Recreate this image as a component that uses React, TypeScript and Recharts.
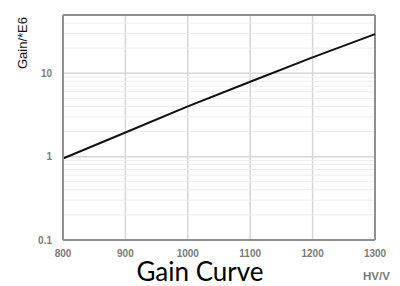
import {
  LineChart,
  Line,
  XAxis,
  YAxis,
  CartesianGrid,
  ReferenceLine,
} from 'recharts';

// high voltage (V) and gain (x1E6)
const voltages = [800, 900, 1000, 1100, 1200, 1300];
const gains = [0.95, 1.95, 4.0, 7.9, 15.5, 29.5];

const xTicks = [800, 900, 1000, 1100, 1200, 1300];
const yTicks = [0.1, 1, 10];
const minorY = [0.2, 0.3, 0.4, 0.5, 0.6, 0.7, 0.8, 0.9, 2, 3, 4, 5, 6, 7, 8, 9, 20, 30, 40];

const data = voltages.map((v, i) => ({ hv: v, gain: gains[i] }));

const tickStyle = {
  fill: '#7a7a7a',
  fontSize: 10,
  fontWeight: 700,
  fontFamily: 'Liberation Sans, Arial, sans-serif',
};

export default function App() {
  return (
    <div style={{ position: 'absolute', left: 0, top: 0, width: 400, height: 286, background: '#fff' }}>
      <LineChart
        width={400}
        height={286}
        data={data}
        margin={{ top: 15, right: 25, bottom: 0, left: 0 }}
      >
        {/* minor grid lines first so the major ones sit on top */}
        {minorY.map(v => (
          <ReferenceLine key={v} y={v} stroke="#ececec" strokeWidth={1} ifOverflow="hidden" />
        ))}
        <CartesianGrid stroke="#d6d6d6" strokeWidth={1.5} />
        <ReferenceLine y={50} stroke="#8f8f8f" strokeWidth={2} />
        <ReferenceLine x={1300} stroke="#8f8f8f" strokeWidth={2} />
        <XAxis
          dataKey="hv"
          type="number"
          domain={[800, 1300]}
          ticks={xTicks}
          height={46}
          tickLine={false}
          tickSize={6}
          tickMargin={4}
          axisLine={{ stroke: '#8f8f8f', strokeWidth: 2 }}
          tick={tickStyle}
        />
        <YAxis
          scale="log"
          domain={[0.1, 50]}
          ticks={yTicks}
          allowDataOverflow
          width={63}
          tickLine={false}
          tickSize={6}
          tickMargin={5}
          axisLine={{ stroke: '#8f8f8f', strokeWidth: 2 }}
          tick={tickStyle}
        />
        <Line
          type="linear"
          dataKey="gain"
          stroke="#111"
          strokeWidth={2}
          dot={false}
          isAnimationActive={false}
        />
      </LineChart>

      <div
        style={{
          position: 'absolute',
          left: 22,
          top: 43,
          transform: 'translate(-50%, -50%) rotate(-90deg)',
          fontFamily: 'Liberation Sans, Arial, sans-serif',
          fontSize: 13,
          color: '#111',
          whiteSpace: 'nowrap',
        }}
      >
        Gain/*E6
      </div>

      <div
        style={{
          position: 'absolute',
          left: 0,
          width: 400,
          top: 261,
          textAlign: 'center',
          fontFamily: 'Lato, sans-serif',
          fontSize: 26,
          lineHeight: '20px',
          color: '#000',
        }}
      >
        Gain Curve
      </div>

      <div
        style={{
          position: 'absolute',
          left: 363,
          top: 270,
          fontFamily: 'Liberation Sans, Arial, sans-serif',
          fontSize: 11.5,
          fontWeight: 700,
          color: '#7a7a7a',
        }}
      >
        HV/V
      </div>
    </div>
  );
}
